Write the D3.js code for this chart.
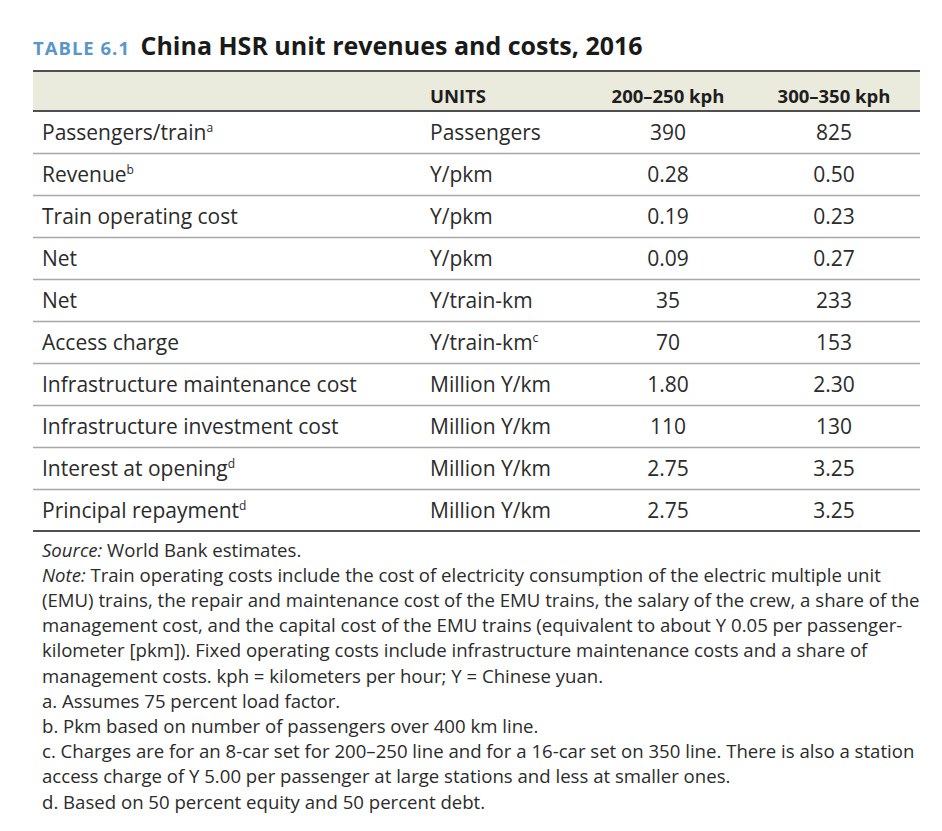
<!DOCTYPE html>
<html lang="en">
<head>
    <meta charset="UTF-8">
    <title>China HSR unit revenues and costs, 2016</title>
    <script src="https://d3js.org/d3.v7.min.js"></script>
    <style>
        body {
            margin: 0;
            background: #fff;
            font-family: "Open Sans", "Noto Sans", sans-serif;
        }
        .cell { font-size: 21px; fill: #2b2b2b; }
        .head { font-size: 18.5px; font-weight: bold; fill: #1e1e1e; }
        .note { font-size: 18.6px; fill: #2b2b2b; }
    </style>
</head>
<body>
<div id="chart"></div>
<script>
    // --- data ---
    const tableTag = "TABLE 6.1";
    const title = "China HSR unit revenues and costs, 2016";
    const headers = ["", "UNITS", "200–250 kph", "300–350 kph"];

    const items = ["Passengers/train", "Revenue", "Train operating cost", "Net", "Net",
        "Access charge", "Infrastructure maintenance cost", "Infrastructure investment cost",
        "Interest at opening", "Principal repayment"];
    const itemNotes = ["a", "b", "", "", "", "", "", "", "d", "d"];
    const units = ["Passengers", "Y/pkm", "Y/pkm", "Y/pkm", "Y/train-km", "Y/train-km",
        "Million Y/km", "Million Y/km", "Million Y/km", "Million Y/km"];
    const unitNotes = ["", "", "", "", "", "c", "", "", "", ""];
    const speed200 = ["390", "0.28", "0.19", "0.09", "35", "70", "1.80", "110", "2.75", "2.75"];
    const speed300 = ["825", "0.50", "0.23", "0.27", "233", "153", "2.30", "130", "3.25", "3.25"];

    // notes: [italic lead, rest of line]
    const notes = [
        ["Source:", " World Bank estimates."],
        ["Note:", " Train operating costs include the cost of electricity consumption of the electric multiple unit"],
        ["", "(EMU) trains, the repair and maintenance cost of the EMU trains, the salary of the crew, a share of the"],
        ["", "management cost, and the capital cost of the EMU trains (equivalent to about Y 0.05 per passenger-"],
        ["", "kilometer [pkm]). Fixed operating costs include infrastructure maintenance costs and a share of"],
        ["", "management costs. kph = kilometers per hour; Y = Chinese yuan."],
        ["", "a. Assumes 75 percent load factor."],
        ["", "b. Pkm based on number of passengers over 400 km line."],
        ["", "c. Charges are for an 8-car set for 200–250 line and for a 16-car set on 350 line. There is also a station"],
        ["", "access charge of Y 5.00 per passenger at large stations and less at smaller ones."],
        ["", "d. Based on 50 percent equity and 50 percent debt."]
    ];

    const W = 942, H = 831;
    const left = 33, right = 920;
    const headTop = 71, headBottom = 111, tableBottom = 531;

    const svg = d3.select("#chart").append("svg")
        .attr("width", W).attr("height", H);

    // title
    const t = svg.append("text").attr("x", left).attr("y", 55);
    t.append("tspan").text(tableTag)
        .attr("font-size", 18.5).attr("font-weight", "bold").attr("fill", "#5a96c8")
        .attr("letter-spacing", 1);
    t.append("tspan").text(" " + title).attr("dx", 4)
        .attr("font-size", 25).attr("font-weight", "bold").attr("fill", "#1a1a1a");

    // rows scale
    const y = d3.scaleBand()
        .domain(d3.range(items.length))
        .range([headBottom, tableBottom]);

    // header band
    svg.append("rect")
        .attr("x", left).attr("y", headTop)
        .attr("width", right - left).attr("height", headBottom - headTop)
        .attr("fill", "#eaeadd");

    // column positions
    const colX = [42, 430, 668, 834];
    const colAnchor = ["start", "start", "middle", "middle"];

    svg.selectAll(".head")
        .data(headers)
        .enter().append("text")
        .attr("class", "head")
        .attr("x", (d, i) => colX[i])
        .attr("y", headTop + 32)
        .attr("text-anchor", (d, i) => colAnchor[i])
        .text(d => d);

    // row separators
    svg.selectAll(".sep")
        .data(d3.range(1, items.length))
        .enter().append("line")
        .attr("class", "sep")
        .attr("x1", left).attr("x2", right)
        .attr("y1", d => y(d) + 0.5).attr("y2", d => y(d) + 0.5)
        .attr("stroke", "#a8a8a8").attr("stroke-width", 1.3);

    // heavy rules
    [headTop, headBottom, tableBottom].forEach(v => {
        svg.append("line")
            .attr("x1", left).attr("x2", right)
            .attr("y1", v).attr("y2", v)
            .attr("stroke", "#505050").attr("stroke-width", 2);
    });

    const rows = svg.selectAll(".row")
        .data(items)
        .enter().append("g")
        .attr("class", "row")
        .attr("transform", (d, i) => `translate(0,${y(i) + y.bandwidth() / 2 + 7.5})`);

    function withSup(sel, textFn, supFn) {
        sel.append("tspan").text(textFn);
        sel.append("tspan")
            .attr("dy", -8).attr("font-size", 12)
            .text(supFn);
    }

    rows.append("text").attr("class", "cell").attr("x", colX[0])
        .call(withSup, d => d, (d, i) => itemNotes[i]);
    rows.append("text").attr("class", "cell").attr("x", colX[1])
        .call(withSup, (d, i) => units[i], (d, i) => unitNotes[i]);
    rows.append("text").attr("class", "cell").attr("x", colX[2])
        .attr("text-anchor", "middle").text((d, i) => speed200[i]);
    rows.append("text").attr("class", "cell").attr("x", colX[3])
        .attr("text-anchor", "middle").text((d, i) => speed300[i]);

    // notes
    const noteY = d3.scaleLinear().domain([0, 1]).range([556.5, 581.7]);
    const nt = svg.selectAll(".note")
        .data(notes)
        .enter().append("text")
        .attr("class", "note")
        .attr("x", 42)
        .attr("y", (d, i) => noteY(i));
    nt.append("tspan").attr("font-style", "italic").text(d => d[0]);
    nt.append("tspan").text(d => d[1]);
</script>
</body>
</html>
